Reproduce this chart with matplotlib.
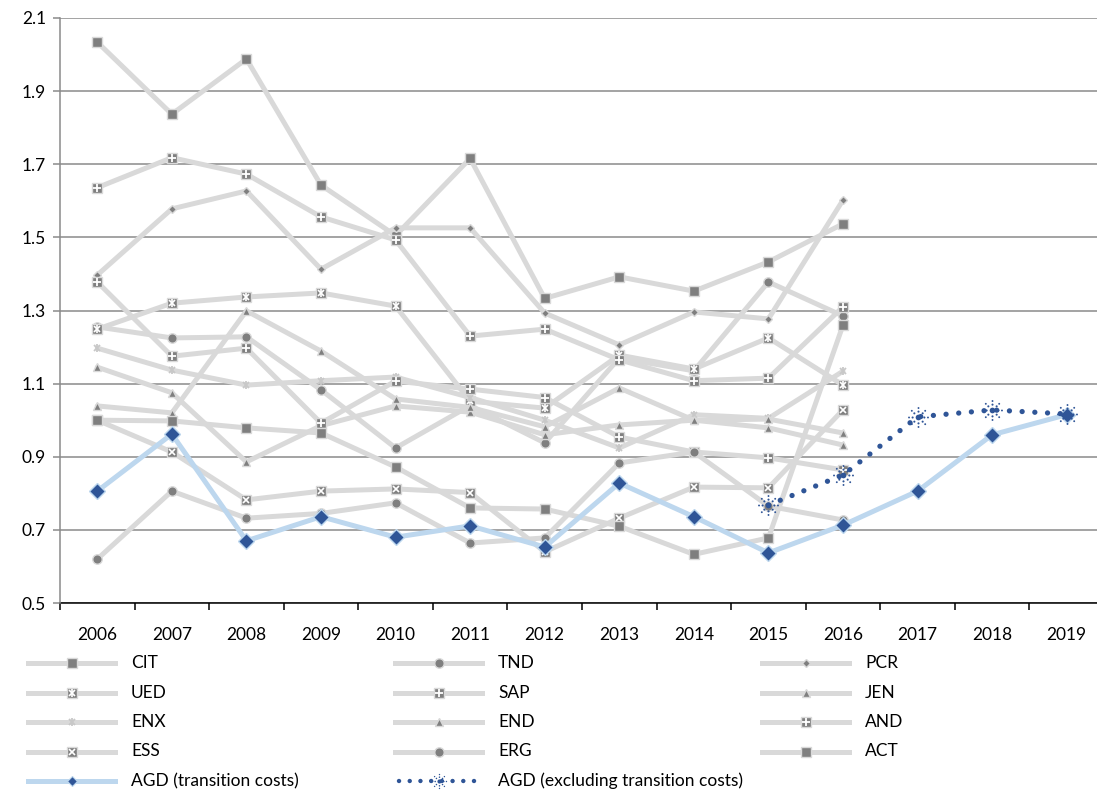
import numpy as np
import matplotlib
matplotlib.use("Agg")
import matplotlib.pyplot as plt
from matplotlib.path import Path

# ---- data -------------------------------------------------------------
years = ["2006", "2007", "2008", "2009", "2010", "2011", "2012",
         "2013", "2014", "2015", "2016", "2017", "2018", "2019"]

CIT = [2.034, 1.837, 1.988, 1.643, 1.505, 1.716, 1.333, 1.392, 1.353, 1.433, 1.537]
TND = [1.255, 1.225, 1.228, 1.083, 0.924, 1.040, 0.938, 1.170, 1.135, 1.378, 1.285]
PCR = [1.397, 1.578, 1.627, 1.413, 1.526, 1.526, 1.293, 1.206, 1.296, 1.277, 1.602]
UED = [1.249, 1.320, 1.337, 1.348, 1.312, 1.052, 1.033, 1.178, 1.140, 1.225, 1.096]
SAP = [1.636, 1.718, 1.673, 1.556, 1.493, 1.230, 1.249, 1.165, 1.108, 1.115, 1.310]
JEN = [1.145, 1.075, 0.886, 0.985, 1.039, 1.022, 0.960, 0.987, 1.000, 0.979, 0.932]
ENX = [1.197, 1.137, 1.096, 1.108, 1.118, 1.062, 1.000, 0.924, 1.015, 1.005, 1.134]
END = [1.039, 1.020, 1.299, 1.189, 1.058, 1.035, 0.982, 1.088, 1.000, 1.003, 0.965]
AND = [1.378, 1.175, 1.197, 0.992, 1.107, 1.085, 1.062, 0.954, 0.913, 0.897, 0.864]
ESS = [1.000, 0.913, 0.782, 0.806, 0.812, 0.802, 0.640, 0.732, 0.817, 0.815, 1.028]
ERG = [0.620, 0.806, 0.732, 0.745, 0.774, 0.664, 0.678, 0.883, 0.913, 0.765, 0.727]
ACT = [1.000, 0.998, 0.979, 0.965, 0.872, 0.760, 0.757, 0.710, 0.633, 0.678, 1.260]

AGD_TC = [0.806, 0.962, 0.670, 0.736, 0.680, 0.711, 0.653, 0.828, 0.736,
          0.637, 0.713, 0.806, 0.960, 1.015]
AGD_EX = [np.nan] * 9 + [0.768, 0.850, 1.009, 1.028, 1.017]

y_ticks = [0.5, 0.7, 0.9, 1.1, 1.3, 1.5, 1.7, 1.9, 2.1]

# ---- styles -----------------------------------------------------------
plt.rcParams['font.family'] = ['Lato', 'DejaVu Sans']
GREY_LINE = '#D9D9D9'
GREY_MARK = '#7F7F7F'
GRID = '#8A8A8A'
BLUE_LIGHT = '#BDD7EE'
BLUE_DARK = '#2F5597'
LW = 3.6


def dot_star():
    parts = [Path.circle((0, 0), 0.30)]
    for ang in range(0, 360, 45):
        a = np.deg2rad(ang)
        for r, s in ((0.62, 0.11), (1.0, 0.10)):
            parts.append(Path.circle((r * np.cos(a), r * np.sin(a)), s))
    return Path.make_compound_path(*parts)


DOT_STAR = dot_star()

# marker layers per kind: list of (marker, size, face, edge, edgewidth)
BASE_SQ = ('s', 6.8, GREY_MARK, GREY_LINE, 1.0)
KINDS = {
    'sq': [BASE_SQ],
    'sqx': [BASE_SQ, ('x', 5.0, 'white', 'white', 1.2)],
    'sqstar': [BASE_SQ, ('x', 5.0, 'white', 'white', 1.2), ('|', 5.6, 'white', 'white', 1.2)],
    'sqplus': [BASE_SQ, ('+', 5.8, 'white', 'white', 1.3)],
    'circ': [('o', 6.8, GREY_MARK, GREY_LINE, 1.0)],
    'tri': [('^', 6.0, GREY_MARK, GREY_LINE, 1.0)],
    'diam': [('D', 4.2, GREY_MARK, GREY_LINE, 1.0)],
    'star': [('x', 5.0, '#C8C8C8', '#C8C8C8', 1.3), ('|', 6.0, '#C8C8C8', '#C8C8C8', 1.3)],
}

series = [
    ("CIT", CIT, 'sq'), ("TND", TND, 'circ'), ("PCR", PCR, 'diam'),
    ("UED", UED, 'sqstar'), ("SAP", SAP, 'sqplus'), ("JEN", JEN, 'tri'),
    ("ENX", ENX, 'star'), ("END", END, 'tri'), ("AND", AND, 'sqplus'),
    ("ESS", ESS, 'sqx'), ("ERG", ERG, 'circ'), ("ACT", ACT, 'sq'),
]

# ---- figure -------------------------------------------------------------
W, H = 1097, 794
fig = plt.figure(figsize=(W / 100, H / 100), dpi=100)
ax = fig.add_axes([60 / W, (H - 603) / H, 1044 / W, 585 / H])
ax.set_xlim(-0.5, 13.5)
ax.set_ylim(0.5, 2.1)

ax.set_yticks(y_ticks)
ax.set_yticklabels([f"{v:.1f}" for v in y_ticks])
ax.yaxis.grid(True, color=GRID, lw=1.1)
ax.set_axisbelow(True)
for s in ('top', 'right'):
    ax.spines[s].set_visible(False)
ax.spines['left'].set_color(GRID)
ax.spines['left'].set_linewidth(1.1)
ax.spines['bottom'].set_color('black')
ax.spines['bottom'].set_linewidth(1.1)
ax.spines['bottom'].set_zorder(1.5)
ax.tick_params(axis='y', length=5, color=GRID, width=1.1, pad=5,
               labelsize=12.5)

ax.set_xticks(range(len(years)))
ax.set_xticklabels(years)
ax.set_xticks(np.arange(-0.5, len(years), 1.0), minor=True)
ax.tick_params(axis='x', which='major', length=0, pad=17, labelsize=12.5)
ax.tick_params(axis='x', which='minor', length=5, color='black', width=1.1)

x_grey = np.arange(len(CIT))


def draw_markers(target, xs, ys, kind, z):
    for i, (m, ms, fc, ec, mew) in enumerate(KINDS[kind]):
        target.plot(xs, ys, ls='none', marker=m, ms=ms, mfc=fc, mec=ec,
                    mew=mew, zorder=z + 0.001 * (i + 1))


for k, (name, vals, kind) in enumerate(series):
    z = 3 + 0.01 * k
    ax.plot(x_grey, vals, color=GREY_LINE, lw=LW, solid_capstyle='round',
            solid_joinstyle='round', zorder=z)
    draw_markers(ax, x_grey, vals, kind, z)

x_all = np.arange(len(years))
ax.plot(x_all, AGD_TC, color=BLUE_LIGHT, lw=LW, solid_joinstyle='round',
        marker='D', ms=8.5, mfc=BLUE_DARK, mec=BLUE_LIGHT, mew=1.0, zorder=4)
ax.plot(x_all, AGD_EX, color=BLUE_DARK, lw=3.8, ls=(0, (0.01, 2.4)),
        dash_capstyle='round', zorder=4.1)
ax.plot(x_all, AGD_EX, ls='none', marker=DOT_STAR, ms=15, mfc=BLUE_DARK,
        mec='none', zorder=4.2)

# ---- legend (pixel layout) ---------------------------------------------
lax = fig.add_axes([0, 0, 1, 1], zorder=-1)
lax.set_xlim(0, W)
lax.set_ylim(H, 0)
lax.axis('off')

col_x = [28, 395, 762]
row_y = [663, 692.5, 722, 751.5, 781]
sample_len = 87
text_off = 103

for k, (name, vals, kind) in enumerate(series):
    r, c = divmod(k, 3)
    x0, y0 = col_x[c], row_y[r]
    lax.plot([x0, x0 + sample_len], [y0, y0], color=GREY_LINE, lw=LW)
    draw_markers(lax, [x0 + sample_len / 2], [y0], kind, 3)
    lax.text(x0 + text_off, y0, name, va='center', ha='left', fontsize=12.5)

x0, y0 = col_x[0], row_y[4]
lax.plot([x0, x0 + sample_len], [y0, y0], color=BLUE_LIGHT, lw=LW)
lax.plot([x0 + sample_len / 2], [y0], marker='D', ms=5, mfc=BLUE_DARK,
         mec=BLUE_LIGHT, mew=0.8)
lax.text(x0 + text_off, y0, "AGD (transition costs)", va='center',
         ha='left', fontsize=12.5)

x0 = col_x[1]
lax.plot([x0 + 4, x0 + sample_len], [y0, y0], color=BLUE_DARK, lw=3.2,
         ls=(0, (0.01, 2.4)), dash_capstyle='round')
lax.plot([x0 + sample_len / 2], [y0], ls='none', marker=DOT_STAR, ms=11,
         mfc=BLUE_DARK, mec='none')
lax.text(x0 + text_off, y0, "AGD (excluding transition costs)", va='center',
         ha='left', fontsize=12.5)

fig.savefig("out.png", dpi=100)
